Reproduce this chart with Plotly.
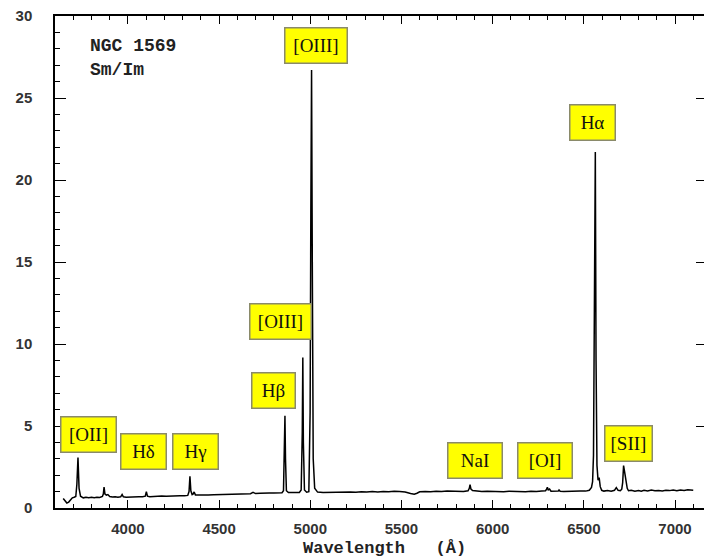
import plotly.graph_objects as go

# Optical spectrum of NGC 1569 (relative flux vs. wavelength in Angstrom)
wavelength = [
    3645, 3655, 3665, 3675, 3685, 3695, 3705, 3714, 3720, 3726, 3732, 3740,
    3755, 3770, 3785, 3800, 3815, 3830, 3845, 3860, 3865, 3869, 3874, 3882,
    3890, 3900, 3915, 3930, 3945, 3960, 3968, 3975, 3990, 4005, 4020, 4040,
    4060, 4080, 4095, 4101, 4107, 4120, 4140, 4160, 4185, 4210, 4235, 4260,
    4285, 4310, 4328, 4335, 4340, 4345, 4352, 4358, 4363, 4370, 4385, 4410,
    4440, 4470, 4500, 4530, 4560, 4590, 4620, 4650, 4672, 4686, 4700, 4725,
    4750, 4775, 4800, 4825, 4845, 4853, 4858, 4861, 4864, 4869, 4880, 4900,
    4920, 4940, 4950, 4956, 4959, 4962, 4968, 4980, 4992, 4999, 5003, 5007,
    5011, 5016, 5024, 5040, 5070, 5100, 5130, 5160, 5190, 5220, 5250, 5280,
    5310, 5340, 5370, 5400, 5430, 5460, 5490, 5520, 5550, 5570, 5585, 5600,
    5630, 5660, 5690, 5720, 5750, 5780, 5810, 5840, 5865, 5872, 5876, 5881,
    5890, 5910, 5940, 5970, 6000, 6030, 6060, 6090, 6120, 6150, 6180, 6210,
    6240, 6270, 6290, 6296, 6300, 6305, 6312, 6320, 6340, 6360, 6364, 6370,
    6390, 6420, 6450, 6480, 6510, 6530, 6542, 6548, 6553, 6558, 6563, 6567,
    6572, 6578, 6584, 6590, 6598, 6610, 6630, 6650, 6668, 6678, 6688, 6700,
    6708, 6713, 6718, 6723, 6728, 6733, 6738, 6745, 6760, 6780, 6800, 6815,
    6830, 6850, 6870, 6890, 6910, 6930, 6950, 6970, 6990, 7010, 7030, 7050,
    7070, 7085, 7100,
]
flux = [
    0.58, 0.45, 0.30, 0.36, 0.52, 0.62, 0.66, 0.70, 1.45, 3.07, 1.20, 0.72,
    0.62, 0.66, 0.63, 0.65, 0.62, 0.66, 0.64, 0.70, 0.85, 1.27, 0.85, 0.78,
    0.82, 0.70, 0.67, 0.69, 0.65, 0.68, 0.82, 0.68, 0.66, 0.67, 0.69, 0.66,
    0.69, 0.68, 0.72, 1.00, 0.72, 0.69, 0.71, 0.70, 0.73, 0.71, 0.73, 0.72,
    0.75, 0.74, 0.77, 1.00, 1.94, 1.05, 0.82, 0.86, 0.98, 0.80, 0.79, 0.78,
    0.80, 0.81, 0.82, 0.83, 0.85, 0.84, 0.87, 0.88, 0.87, 0.95, 0.88, 0.90,
    0.89, 0.91, 0.92, 0.91, 0.93, 1.05, 3.60, 5.63, 3.00, 1.05, 0.94, 0.93,
    0.94, 0.95, 1.10, 4.60, 9.17, 4.00, 1.10, 0.96, 1.00, 5.80, 18.0, 26.7,
    15.0, 3.00, 1.20, 0.97, 0.95, 0.96, 0.94, 0.97, 0.95, 0.98, 0.96, 0.99,
    0.97, 1.00, 0.98, 1.01, 0.99, 1.02, 1.00, 0.97, 0.88, 0.84, 0.90, 0.99,
    1.01, 0.99, 1.02, 1.00, 1.03, 1.01, 1.02, 1.00, 1.05, 1.20, 1.43, 1.15,
    1.06, 1.02, 1.00, 1.02, 1.00, 1.01, 0.99, 1.02, 1.00, 1.01, 0.99, 1.02,
    1.00, 1.03, 1.05, 1.15, 1.27, 1.10, 1.15, 1.02, 1.04, 1.03, 1.10, 1.02,
    1.01, 1.03, 1.02, 1.04, 1.03, 1.08, 1.25, 1.60, 3.20, 10.5, 21.7, 9.0,
    2.60, 1.70, 1.86, 1.30, 1.08, 1.03, 1.06, 1.02, 1.08, 1.25, 1.08, 1.05,
    1.15, 1.55, 2.59, 2.25, 2.00, 1.55, 1.20, 1.05, 1.08, 1.02, 1.07, 1.03,
    1.08, 1.04, 1.09, 1.05, 1.07, 1.04, 1.08, 1.06, 1.09, 1.05, 1.10, 1.07,
    1.11, 1.08, 1.08,
]

# Emission-line identifications
line_names = ["[OII]", "Hδ", "Hγ", "Hβ", "[OIII]", "[OIII]", "NaI", "[OI]", "Hα", "[SII]"]
line_waves = [3727, 4101, 4340, 4861, 4959, 5007, 5890, 6300, 6563, 6724]

# Label box centres (axis units) and box sizes (px)
box_x = [3782, 4084, 4369, 4797, 4838, 5032, 5904, 6288, 6545, 6743]
box_y = [4.48, 3.44, 3.44, 7.16, 11.36, 28.23, 2.89, 2.89, 23.48, 3.93]
box_w = [54, 44, 44, 42, 60, 61, 53, 53, 44, 46]
box_h = 34

fig = go.Figure()
fig.add_trace(go.Scatter(
    x=wavelength, y=flux, mode="lines",
    line=dict(color="black", width=1.5),
    hoverinfo="skip", showlegend=False,
))
# invisible companion trace so the right-hand axis carries mirrored ticks
fig.add_trace(go.Scatter(
    x=[wavelength[0]], y=[flux[0]], yaxis="y2", mode="markers",
    marker=dict(opacity=0), hoverinfo="skip", showlegend=False,
))

for name, bx, by, bw in zip(line_names, box_x, box_y, box_w):
    fig.add_annotation(
        x=bx, y=by, xref="x", yref="y", text=name, showarrow=False,
        font=dict(family="Liberation Serif", size=19, color="#111"),
        bgcolor="#ffff00", bordercolor="#8a8a6a", borderwidth=1.5,
        borderpad=0, width=bw, height=box_h, align="center", valign="middle",
    )

# Object name and morphological type
fig.add_annotation(
    x=0.051, y=0.940, xref="paper", yref="paper", xanchor="left", yanchor="middle",
    text="<b>NGC 1569</b>", showarrow=False,
    font=dict(family="Liberation Mono", size=18, color="#222"),
)
fig.add_annotation(
    x=0.051, y=0.890, xref="paper", yref="paper", xanchor="left", yanchor="middle",
    text="<b>Sm/Im</b>", showarrow=False,
    font=dict(family="Liberation Mono", size=18, color="#222"),
)
# x-axis title
fig.add_annotation(
    x=0.507, y=-0.083, xref="paper", yref="paper",
    xanchor="center", yanchor="middle",
    text="<b>Wavelength   (Å)</b>", showarrow=False,
    font=dict(family="Liberation Mono", size=17, color="#222"),
)

tick_font = dict(family="Liberation Sans", size=15, color="#333")
fig.update_layout(
    width=704, height=558,
    margin=dict(l=55, r=0, t=16, b=50),
    paper_bgcolor="white", plot_bgcolor="white",
    xaxis=dict(
        range=[3600, 7159], tickmode="array",
        tickvals=[4000, 4500, 5000, 5500, 6000, 6500, 7000],
        ticktext=["<b>4000</b>", "<b>4500</b>", "<b>5000</b>", "<b>5500</b>",
                  "<b>6000</b>", "<b>6500</b>", "<b>7000</b>"],
        ticks="inside", ticklen=8, tickwidth=1.3, tickcolor="black",
        minor=dict(dtick=100, tick0=3600, ticks="inside", ticklen=4, tickwidth=1.2, tickcolor="black"),
        showline=True, linecolor="black", linewidth=1.5, mirror="ticks",
        showgrid=False, zeroline=False, tickfont=tick_font, ticklabelstandoff=6,
    ),
    yaxis=dict(
        range=[0, 30], tickmode="array",
        tickvals=[0, 5, 10, 15, 20, 25, 30],
        ticktext=["<b>0</b>", "<b>5</b>", "<b>10</b>", "<b>15</b>",
                  "<b>20</b>", "<b>25</b>", "<b>30</b>"],
        ticks="inside", ticklen=11, tickwidth=1.3, tickcolor="black",
        minor=dict(dtick=1, tick0=0, ticks="inside", ticklen=5, tickwidth=1.2, tickcolor="black"),
        showline=True, linecolor="black", linewidth=1.5, mirror=False,
        showgrid=False, zeroline=False, tickfont=tick_font, ticklabelstandoff=18,
    ),
    yaxis2=dict(
        range=[0, 30], overlaying="y", side="right", anchor="x",
        tickvals=[0, 5, 10, 15, 20, 25, 30], showticklabels=False,
        ticks="inside", ticklen=8, tickwidth=1.3, tickcolor="black",
        showline=False, showgrid=False, zeroline=False,
    ),
)

fig.write_html("out.html")
